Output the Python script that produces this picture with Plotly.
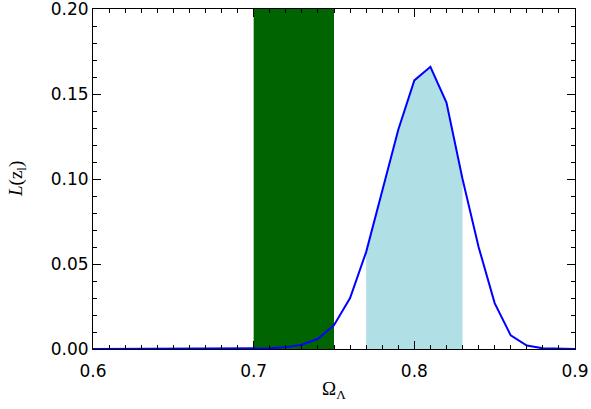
import plotly.graph_objects as go

# Data
omega_lambda = [0.60, 0.61, 0.62, 0.63, 0.64, 0.65, 0.66, 0.67, 0.68, 0.69,
                0.70, 0.71, 0.72, 0.73, 0.74, 0.75, 0.76, 0.77, 0.78, 0.79,
                0.80, 0.81, 0.82, 0.83, 0.84, 0.85, 0.86, 0.87, 0.88, 0.89, 0.90]
likelihood = [0.0, 0.0, 0.0, 0.0, 0.0, 0.0, 0.0, 0.0, 0.0, 0.0,
              0.0001, 0.0004, 0.0011, 0.0025, 0.006, 0.014, 0.030, 0.057, 0.093, 0.129,
              0.158, 0.166, 0.145, 0.100, 0.060, 0.027, 0.008, 0.002, 0.0004, 0.0, 0.0]
green_band = [0.70, 0.75]
blue_band = [0.77, 0.83]
x_ticks = [0.6, 0.7, 0.8, 0.9]
y_ticks = [0.00, 0.05, 0.10, 0.15, 0.20]

fig = go.Figure()

# Dark green band (full height)
fig.add_trace(go.Scatter(
    x=[green_band[0], green_band[1], green_band[1], green_band[0], green_band[0]],
    y=[0, 0, 0.2, 0.2, 0],
    fill="toself", fillcolor="#006400", line=dict(width=0), mode="lines",
    hoverinfo="skip", showlegend=False))

# Light blue filled region under the curve
bx = [x for x in omega_lambda if blue_band[0] - 1e-9 <= x <= blue_band[1] + 1e-9]
by = [y for x, y in zip(omega_lambda, likelihood) if blue_band[0] - 1e-9 <= x <= blue_band[1] + 1e-9]
fig.add_trace(go.Scatter(
    x=bx, y=by, fill="tozeroy", fillcolor="#B0E0E6", line=dict(width=0),
    mode="lines", hoverinfo="skip", showlegend=False))

# Curve
fig.add_trace(go.Scatter(
    x=omega_lambda, y=likelihood, mode="lines",
    line=dict(color="#0000FF", width=2), showlegend=False))

font_family = "DejaVu Sans"
title_font = "Liberation Serif"
axis_common = dict(
    showline=True, linecolor="black", linewidth=1, mirror="allticks",
    ticks="inside", ticklen=8, tickwidth=1, tickcolor="black",
    showgrid=False, zeroline=False, automargin=False,
    ticklabeloverflow="allow",
    tickfont=dict(family=font_family, size=17, color="black"),
)

fig.update_xaxes(
    range=[0.6, 0.9], tickvals=x_ticks, ticktext=[f"{v:.1f}" for v in x_ticks],
    ticklabelstandoff=7,
    minor=dict(dtick=0.01, ticks="inside", ticklen=4, tickcolor="black", showgrid=False),
    **axis_common)
fig.update_yaxes(
    range=[0, 0.2000001], tickvals=y_ticks, ticktext=[f"{v:.2f}" for v in y_ticks],
    minor=dict(dtick=0.01, ticks="inside", ticklen=4, tickcolor="black", showgrid=False),
    **axis_common)

fig.add_annotation(
    text="Ω<sub>Λ</sub>", xref="x", yref="paper", x=0.75, y=0, yshift=-41,
    yanchor="middle", xanchor="center", showarrow=False,
    font=dict(family=title_font, size=19, color="black"))
fig.add_annotation(
    text="<i>L</i>(z<sub>l</sub>)", xref="paper", yref="y", x=0, y=0.1, xshift=-76,
    xanchor="center", yanchor="middle", textangle=-90, showarrow=False,
    font=dict(family=title_font, size=19, color="black"))

fig.update_layout(
    width=591, height=409,
    margin=dict(l=93, r=16, t=9, b=60),
    plot_bgcolor="white", paper_bgcolor="white",
)

fig.write_html("out.html", config={"displayModeBar": False},
               post_script="document.body.style.margin='0';document.body.style.padding='0';")
